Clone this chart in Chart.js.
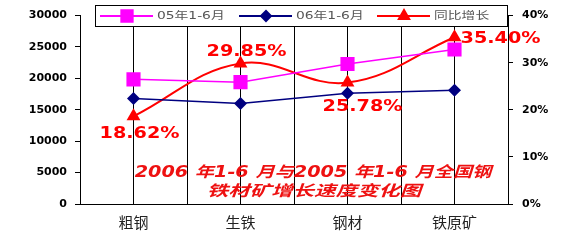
<!DOCTYPE html>
<html>
<head>
<meta charset="utf-8">
<script src="https://cdn.jsdelivr.net/npm/chart.js@4/dist/chart.umd.min.js"></script>
<style>
  body { margin: 0; background: #fff; }
</style>
</head>
<body>
<canvas id="chart" width="573" height="244"></canvas>
<script>
// data
const categories = ['粗钢', '生铁', '钢材', '铁原矿'];
const output2005 = [19850, 19400, 22300, 24600];
const output2006 = [16800, 16000, 17650, 18100];
const growthPct = [18.62, 29.85, 25.78, 35.40];
const seriesNames = ['05年1-6月', '06年1-6月', '同比增长'];
const titleLines = ['2006 年1-6 月与2005 年1-6 月全国钢', '铁材矿增长速度变化图'];

// where the % labels sit relative to their point
const labelOffsets = [[6, 18], [6, -11], [15, 25], [46, 2]];

const MAGENTA = '#ff00ff';
const NAVY = '#000080';
const RED = '#ff0000';

function drawStretched(ctx, text, x, y, font, color, sx, align) {
  ctx.save();
  ctx.font = font;
  ctx.fillStyle = color;
  ctx.textAlign = align || 'center';
  ctx.textBaseline = 'middle';
  ctx.translate(x, y);
  ctx.scale(sx, 1);
  ctx.fillText(text, 0, 0);
  ctx.restore();
}

const legendItems = [
  { color: MAGENTA, style: 'rect', radius: 8, x: 100 },
  { color: NAVY, style: 'rectRot', radius: 5, x: 239 },
  { color: RED, style: 'triangle', radius: 6, x: 377 }
];

const overlay = {
  id: 'overlay',
  afterDraw(chart) {
    const ctx = chart.ctx;

    // growth labels
    const meta = chart.getDatasetMeta(2);
    meta.data.forEach((pt, i) => {
      drawStretched(ctx, growthPct[i].toFixed(2) + '%',
        pt.x + labelOffsets[i][0], pt.y + labelOffsets[i][1],
        'bold 15px "DejaVu Sans", "Noto Sans CJK SC"', RED, 1.28);
    });

    // caption inside the plot
    const tf = 'italic bold 15px "DejaVu Sans", "Noto Sans CJK SC"';
    drawStretched(ctx, titleLines[0], 313, 173, tf, '#ee1111', 1.28);
    drawStretched(ctx, titleLines[1], 314, 192, tf, '#ee1111', 1.43);

    // legend box
    ctx.save();
    ctx.fillStyle = '#fff';
    ctx.strokeStyle = '#000';
    ctx.lineWidth = 1;
    ctx.fillRect(95.5, 5.5, 412, 21);
    ctx.strokeRect(95.5, 5.5, 412, 21);
    const ly = 16;
    legendItems.forEach((it, i) => {
      ctx.strokeStyle = it.color;
      ctx.fillStyle = it.color;
      ctx.lineWidth = 2;
      ctx.beginPath();
      ctx.moveTo(it.x, ly);
      ctx.lineTo(it.x + 53, ly);
      ctx.stroke();
      Chart.helpers.drawPoint(ctx, { pointStyle: it.style, radius: it.radius, rotation: 0, borderWidth: 1 }, it.x + 27, ly);
      drawStretched(ctx, seriesNames[i], it.x + 57, ly, '10px "DejaVu Sans", "Noto Sans CJK SC"', '#555', 1.38, 'left');
    });
    ctx.restore();
  }
};

new Chart(document.getElementById('chart'), {
  type: 'line',
  data: {
    labels: categories,
    datasets: [
      {
        label: seriesNames[0],
        data: output2005,
        borderColor: MAGENTA,
        backgroundColor: MAGENTA,
        borderWidth: 1.5,
        pointStyle: 'rect',
        pointRadius: 10,
        pointBorderWidth: 0,
        tension: 0,
        yAxisID: 'y'
      },
      {
        label: seriesNames[1],
        data: output2006,
        borderColor: NAVY,
        backgroundColor: NAVY,
        borderWidth: 1.5,
        pointStyle: 'rectRot',
        pointRadius: 6.5,
        pointBorderWidth: 0,
        tension: 0,
        yAxisID: 'y'
      },
      {
        label: seriesNames[2],
        data: growthPct,
        borderColor: RED,
        backgroundColor: RED,
        borderWidth: 2,
        pointStyle: 'triangle',
        pointRadius: 8,
        pointBorderWidth: 0,
        tension: 0.4,
        yAxisID: 'y1'
      }
    ]
  },
  options: {
    responsive: false,
    animation: false,
    layout: { padding: { top: 14, left: 0, right: 0, bottom: 0 } },
    plugins: {
      legend: { display: false },
      tooltip: { enabled: false }
    },
    scales: {
      x: {
        type: 'category',
        offset: true,
        grid: { offset: true, drawTicks: false, color: '#000', lineWidth: 1 },
        border: { display: true, color: '#000' },
        ticks: { font: { family: '"Noto Sans CJK SC"', size: 15 }, color: '#222', padding: 9 },
        afterFit: s => { s.height = 40; }
      },
      xCenter: {
        type: 'category',
        labels: categories,
        offset: true,
        position: 'bottom',
        grid: { offset: false, drawTicks: false, color: '#000', lineWidth: 1 },
        border: { display: false },
        ticks: { display: false },
        afterFit: s => { s.height = 0; }
      },
      y: {
        position: 'left',
        min: 0,
        max: 30000,
        ticks: {
          stepSize: 5000,
          callback: v => String(v),
          font: { family: '"DejaVu Sans"', size: 11, weight: 'bold' },
          color: '#000',
          padding: 8
        },
        grid: { drawOnChartArea: false, drawTicks: true, tickLength: 5, color: '#000' },
        border: { display: true, color: '#000' },
        afterFit: s => { s.width = 80; }
      },
      y1: {
        position: 'right',
        min: 0,
        max: 40,
        ticks: {
          stepSize: 10,
          callback: v => v + '%',
          font: { family: '"DejaVu Sans"', size: 11, weight: 'bold' },
          color: '#000',
          padding: 9
        },
        grid: { drawOnChartArea: false, drawTicks: true, tickLength: 5, color: '#000' },
        border: { display: true, color: '#000' },
        afterFit: s => { s.width = 65; }
      }
    }
  },
  plugins: [overlay]
});
</script>
</body>
</html>
